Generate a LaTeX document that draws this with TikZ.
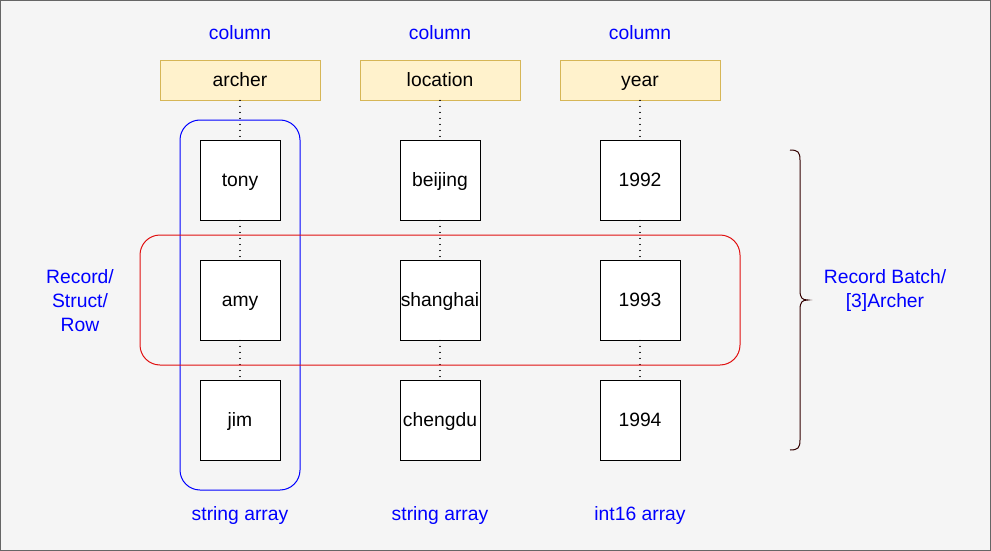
\documentclass[tikz,border=0pt]{standalone}
\usepackage{fontspec}
\setmainfont{Liberation Sans}
\definecolor{bgc}{HTML}{F5F5F5}
\definecolor{bordc}{HTML}{666666}
\definecolor{yelf}{HTML}{FFF2CC}
\definecolor{yeld}{HTML}{D6B656}
\definecolor{bluet}{HTML}{0000FF}
\definecolor{redl}{HTML}{E01010}
\definecolor{bracec}{HTML}{330000}
\begin{document}
\begin{tikzpicture}[x=1pt,y=-1pt,
  every node/.style={font=\fontsize{19.3}{24}\selectfont,text height=17.5pt,text depth=4.1pt},
  hdr/.style={draw=yeld,fill=yelf,minimum width=160pt,minimum height=40pt,inner sep=0pt,line width=0.8pt},
  cell/.style={draw=black,fill=white,minimum width=80pt,minimum height=80pt,inner sep=0pt,line width=0.9pt},
  lbl/.style={text=bluet,align=center,inner sep=0pt},
  dot/.style={draw=black,line width=1.3pt,dash pattern=on 0.01pt off 6pt,line cap=round},
]
\useasboundingbox (0,0) rectangle (991,551);
\draw[bordc,fill=bgc,line width=1pt] (0.5,0.5) rectangle (990.5,550.5);

\foreach \n/\x/\h in {a/240/archer,b/440/location,c/640/year}{
  \node[lbl] (col\n) at (\x,33) {column};
  \node[hdr] (h\n) at (\x,80) {\h};
}
\node[cell] (a1) at (240,180) {tony};
\node[cell] (a2) at (240,300) {amy};
\node[cell] (a3) at (240,420) {jim};
\node[cell] (b1) at (440,180) {beijing};
\node[cell] (b2) at (440,300) {shanghai};
\node[cell] (b3) at (440,420) {chengdu};
\node[cell] (c1) at (640,180) {1992};
\node[cell] (c2) at (640,300) {1993};
\node[cell] (c3) at (640,420) {1994};

\foreach \n in {a,b,c}{
  \draw[dot] (h\n.south) -- (\n1.north);
  \draw[dot] (\n1.south) -- (\n2.north);
  \draw[dot] (\n2.south) -- (\n3.north);
}

\draw[bluet,line width=1pt,rounded corners=20pt] (180,120) rectangle (300,490);
\draw[redl,line width=1pt,rounded corners=20pt] (140,235) rectangle (740,365);

\node[lbl,text height=,text depth=] (rec) at (80,301) {Record/\\Struct/\\Row};
\node[lbl,text height=,text depth=] (rb) at (885,291) {Record Batch/\\{}[3]Archer};

\draw[bracec,line width=1pt] (790,150) .. controls (798,150) and (800,152) .. (800,160) -- (800,290)
  .. controls (800,298) and (802,300) .. (808,300)
  .. controls (802,300) and (800,302) .. (800,310) -- (800,440)
  .. controls (800,448) and (798,450) .. (790,450);

\node[lbl] (sa) at (240,514) {string array};
\node[lbl] (sb) at (440,514) {string array};
\node[lbl] (sc) at (640,514) {int16 array};
\end{tikzpicture}
\end{document}
